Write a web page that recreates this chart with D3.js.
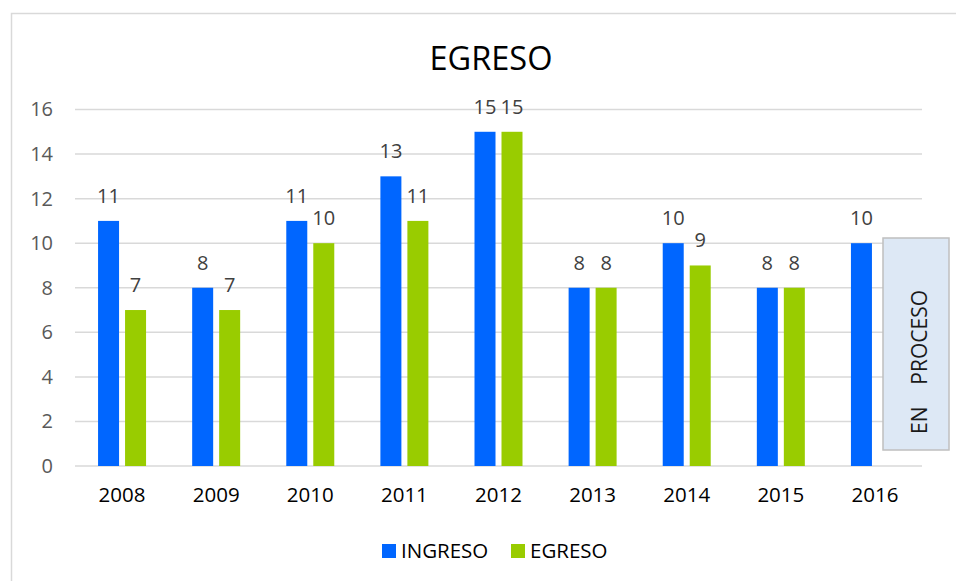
<!DOCTYPE html>
<html><head><meta charset="utf-8">
<script src="https://cdn.jsdelivr.net/npm/d3@7"></script>
<style>
body{margin:0;background:#fff;}
text{font-family:"Open Sans",sans-serif;}
</style></head>
<body><svg id="c" width="956" height="581"></svg>
<script>
const years = ["2008","2009","2010","2011","2012","2013","2014","2015","2016"];
const seriesNames = ["INGRESO","EGRESO"];
const ingreso = [11,8,11,13,15,8,10,8,10];
const egreso = [7,7,10,11,15,8,9,8,null];
const yTicks = [0,2,4,6,8,10,12,14,16];
const colors = ["#0066ff","#99cc00"];
const title = "EGRESO";
const note = "EN    PROCESO";

(function(){
const svg = d3.select("#c");
svg.append("rect").attr("width",956).attr("height",581).attr("fill","#fff");
svg.append("path").attr("d","M11.5,581 V13.5 H956").attr("fill","none").attr("stroke","#d9d9d9").attr("stroke-width",1.5);

const pl=75,pr=922,pt=109.5,pb=466;
const y = d3.scaleLinear().domain([0,16]).range([pb,pt]);
const x0 = d3.scaleBand().domain(years).range([pl,pr]).paddingInner(0.49).paddingOuter(0.245);
const x1 = d3.scaleBand().domain(seriesNames).range([0,x0.bandwidth()]).paddingInner(0.2222);

svg.append("g").selectAll("line").data(yTicks).join("line")
  .attr("x1",pl).attr("x2",pr).attr("y1",d=>y(d)).attr("y2",d=>y(d))
  .attr("stroke","#d9d9d9").attr("stroke-width",1.5);

const yAxis = d3.axisLeft(y).tickValues(yTicks).tickSize(0).tickPadding(22);
const ga = svg.append("g").attr("transform",`translate(${pl},0)`).call(yAxis);
ga.select(".domain").remove();
ga.selectAll("text").attr("font-size",20).attr("fill","#595959").attr("font-family","Open Sans");

const xAxis = d3.axisBottom(x0).tickSize(0).tickPadding(21);
const gx = svg.append("g").attr("transform",`translate(0,${pb})`).call(xAxis);
gx.select(".domain").remove();
gx.selectAll("text").attr("font-size",20.5).attr("fill","#000").attr("font-family","Open Sans");

const data = years.map((yr,i)=>({year:yr, vals:[ingreso[i],egreso[i]]}));
const groups = svg.append("g").selectAll("g").data(data).join("g")
  .attr("transform",d=>`translate(${x0(d.year)},0)`);
const items = d=>d.vals.map((v,j)=>({k:seriesNames[j],v,j})).filter(e=>e.v!=null);
groups.selectAll("rect").data(items).join("rect")
  .attr("x",e=>x1(e.k)).attr("width",x1.bandwidth())
  .attr("y",e=>y(e.v)).attr("height",e=>y(0)-y(e.v)).attr("fill",e=>colors[e.j]);
groups.selectAll("text").data(items).join("text")
  .attr("x",e=>x1(e.k)+x1.bandwidth()/2).attr("y",e=>y(e.v)-18)
  .attr("text-anchor","middle").attr("font-size",20).attr("fill","#404040").text(e=>e.v);

svg.append("text").attr("x",491).attr("y",70).attr("text-anchor","middle")
  .attr("font-size",33).attr("fill","#000").attr("textLength",123).attr("lengthAdjust","spacingAndGlyphs").text(title);

svg.append("rect").attr("x",883).attr("y",238).attr("width",66).attr("height",212)
  .attr("fill","#dde8f5").attr("stroke","#bfbfbf").attr("stroke-width",1.5);
svg.append("text").attr("transform","translate(927,362) rotate(-90)")
  .attr("text-anchor","middle").attr("font-size",21).attr("fill","#1a1a1a")
  .style("white-space","pre").text(note);

const lg = svg.append("g");
const legX = [382,511];
seriesNames.forEach((s,i)=>{
  lg.append("rect").attr("x",legX[i]).attr("y",544).attr("width",14).attr("height",14).attr("fill",colors[i]);
  lg.append("text").attr("x",legX[i]+19).attr("y",558).attr("font-size",20.5).attr("fill","#000").text(s);
});
})();
</script></body></html>
